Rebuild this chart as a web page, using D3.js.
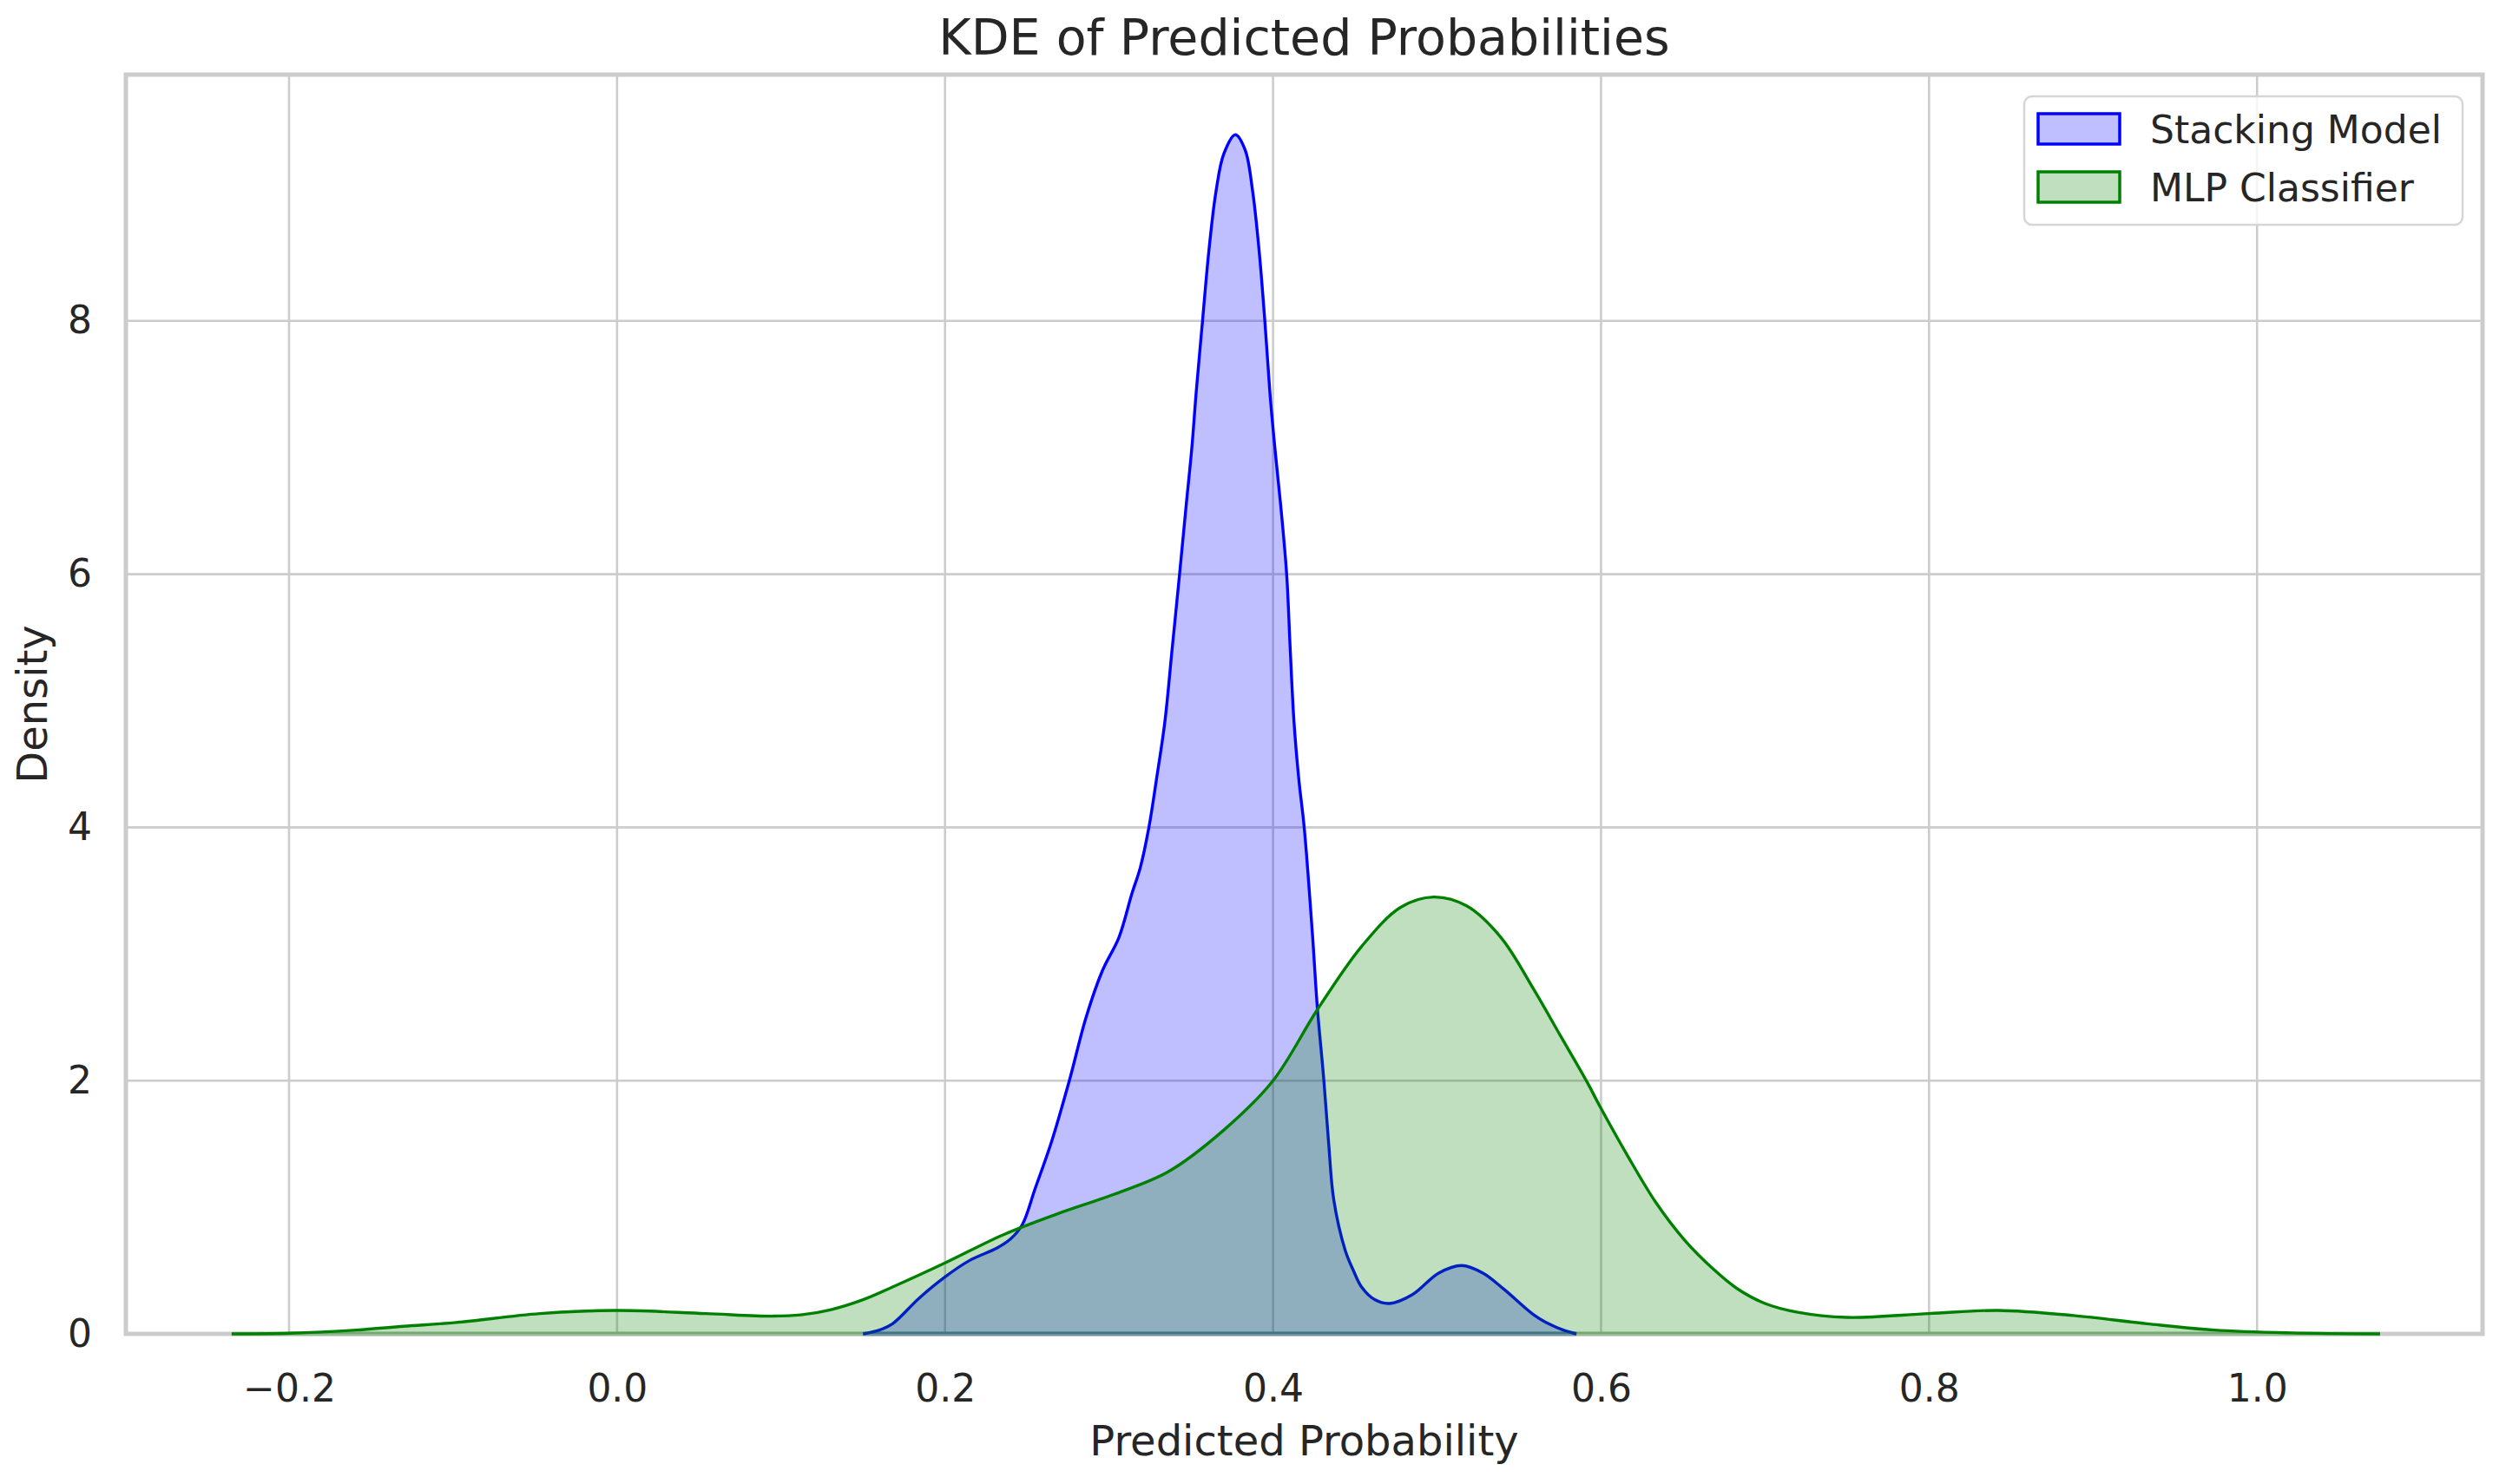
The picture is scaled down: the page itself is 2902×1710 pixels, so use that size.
<!DOCTYPE html>
<html>
<head>
<meta charset="utf-8">
<title>KDE of Predicted Probabilities</title>
<script src="https://cdn.jsdelivr.net/npm/d3@7"></script>
<style>
  body { margin: 0; background: #fff; }
  text { font-family: "DejaVu Sans", sans-serif; fill: #262626; }
  .grid line { stroke: #cccccc; stroke-width: 2.6; }
  .spine { stroke: #cccccc; stroke-width: 5; fill: none; }
  .axis .domain { display: none; }
  .axis text { font-size: 44px; }
</style>
</head>
<body>
<div id="chart"></div>
<script>
// values
const seriesNames = ['Stacking Model', 'MLP Classifier'];
const seriesColors = ['#0000ff', '#008000'];

const stackX = [0.150, 0.160, 0.168, 0.184, 0.200, 0.215, 0.232, 0.240, 0.247, 0.255,
  0.265, 0.276, 0.286, 0.296, 0.306, 0.314, 0.319, 0.3243, 0.3288, 0.334,
  0.3384, 0.343, 0.347, 0.3505, 0.3531, 0.357, 0.361, 0.3653, 0.370, 0.377,
  0.383, 0.3875, 0.3914, 0.395, 0.3981, 0.4011, 0.4047, 0.4083, 0.4105, 0.4128,
  0.4158, 0.419, 0.424, 0.427, 0.431, 0.434, 0.437, 0.444, 0.449, 0.454,
  0.462, 0.471, 0.485, 0.501, 0.515, 0.528, 0.541, 0.559, 0.568, 0.577, 0.585];
const stackD = [0, 0.03, 0.08, 0.28, 0.45, 0.58, 0.68, 0.75, 0.86, 1.15,
  1.52, 2.01, 2.50, 2.87, 3.13, 3.48, 3.68, 4.0, 4.37, 4.83,
  5.40, 6.0, 6.54, 7.0, 7.43, 8.0, 8.57, 9.03, 9.32, 9.47,
  9.35, 9.03, 8.57, 8.0, 7.43, 7.0, 6.54, 6.0, 5.40, 4.83,
  4.37, 4.0, 3.16, 2.58, 2.0, 1.49, 1.06, 0.66, 0.50, 0.37,
  0.27, 0.24, 0.31, 0.48, 0.54, 0.48, 0.35, 0.15, 0.08, 0.03, 0];

const mlpX = [-0.235, -0.200, -0.159, -0.130, -0.098, -0.047, 0.0, 0.054, 0.095, 0.112,
  0.130, 0.150, 0.168, 0.200, 0.235, 0.269, 0.3025, 0.336, 0.370, 0.400,
  0.427, 0.454, 0.478, 0.498, 0.518, 0.539, 0.559, 0.575, 0.591, 0.600,
  0.6156, 0.6333, 0.651, 0.6686, 0.6827, 0.700, 0.720, 0.750, 0.800, 0.842,
  0.888, 0.933, 0.974, 1.020, 1.075];
const mlpD = [0, 0.005, 0.03, 0.06, 0.09, 0.16, 0.185, 0.16, 0.14, 0.15,
  0.19, 0.27, 0.37, 0.56, 0.78, 0.95, 1.10, 1.28, 1.61, 2.0,
  2.56, 3.06, 3.37, 3.45, 3.38, 3.13, 2.72, 2.36, 2.0, 1.78,
  1.42, 1.04, 0.74, 0.51, 0.36, 0.24, 0.17, 0.13, 0.16, 0.185,
  0.145, 0.08, 0.03, 0.008, 0];

const xTicks = [-0.2, 0.0, 0.2, 0.4, 0.6, 0.8, 1.0];
const yTicks = [0, 2, 4, 6, 8];
const xLimits = [-0.2995, 1.1375];
const yLimits = [0, 9.945];

const W = 2902, H = 1710;
const margin = {top: 86, right: 42, bottom: 173, left: 145};
const width = W - margin.left - margin.right;
const height = H - margin.top - margin.bottom;

const x = d3.scaleLinear().domain(xLimits).range([0, width]);
const y = d3.scaleLinear().domain(yLimits).range([height, 0]);

const svg = d3.select("#chart").append("svg")
    .attr("width", W)
    .attr("height", H);

const g = svg.append("g")
    .attr("transform", `translate(${margin.left},${margin.top})`);

// grid
const grid = g.append("g").attr("class", "grid");
grid.selectAll(".vx").data(xTicks).enter().append("line")
    .attr("x1", d => x(d)).attr("x2", d => x(d))
    .attr("y1", 0).attr("y2", height);
grid.selectAll(".hy").data(yTicks.filter(d => d > 0)).enter().append("line")
    .attr("x1", 0).attr("x2", width)
    .attr("y1", d => y(d)).attr("y2", d => y(d));

// spines
g.append("rect").attr("class", "spine")
    .attr("x", 0).attr("y", 0)
    .attr("width", width).attr("height", height);

const series = [
  {name: seriesNames[0], color: seriesColors[0], pts: stackX.map((v, i) => [v, stackD[i]])},
  {name: seriesNames[1], color: seriesColors[1], pts: mlpX.map((v, i) => [v, mlpD[i]])}
];

const curve = d3.curveCatmullRom.alpha(0.5);

const area = d3.area()
    .x(d => x(d[0]))
    .y0(y(0))
    .y1(d => y(Math.max(0, d[1])))
    .curve(curve);

const line = d3.line()
    .x(d => x(d[0]))
    .y(d => y(d[1]))
    .curve(curve);

series.forEach(s => {
  g.append("path")
      .attr("d", area(s.pts))
      .attr("fill", s.color)
      .attr("fill-opacity", 0.25);
  // fill edge along the baseline
  g.append("line")
      .attr("x1", x(s.pts[0][0])).attr("x2", x(s.pts[s.pts.length - 1][0]))
      .attr("y1", y(0)).attr("y2", y(0))
      .attr("stroke", s.color).attr("stroke-opacity", 0.25).attr("stroke-width", 5);
  g.append("path")
      .attr("d", line(s.pts))
      .attr("fill", "none")
      .attr("stroke", s.color)
      .attr("stroke-width", 3.4)
      .attr("stroke-linejoin", "round");
});

// axes
g.append("g")
    .attr("class", "axis")
    .attr("transform", `translate(0,${height})`)
    .call(d3.axisBottom(x).tickValues(xTicks).tickFormat(d3.format(".1f")).tickSize(0).tickPadding(47));

g.append("g")
    .attr("class", "axis")
    .call(d3.axisLeft(y).tickValues(yTicks).tickFormat(d3.format("d")).tickSize(0).tickPadding(39));

// labels
svg.append("text")
    .attr("x", margin.left + width / 2)
    .attr("y", 63)
    .attr("text-anchor", "middle")
    .style("font-size", "57px")
    .text("KDE of Predicted Probabilities");

svg.append("text")
    .attr("x", margin.left + width / 2)
    .attr("y", 1677)
    .attr("text-anchor", "middle")
    .style("font-size", "48px")
    .text("Predicted Probability");

svg.append("text")
    .attr("transform", `translate(54,${margin.top + height / 2}) rotate(-90)`)
    .attr("text-anchor", "middle")
    .style("font-size", "48px")
    .text("Density");

// legend
const legend = svg.append("g").attr("transform", "translate(2332,111)");
legend.append("rect")
    .attr("width", 505).attr("height", 148)
    .attr("rx", 9).attr("ry", 9)
    .attr("fill", "#fff").attr("fill-opacity", 0.8)
    .attr("stroke", "#d6d6d6").attr("stroke-width", 2.5);

const items = legend.selectAll(".item").data(series).enter().append("g")
    .attr("transform", (d, i) => `translate(16,${20 + i * 67})`);
items.append("rect")
    .attr("width", 94).attr("height", 35)
    .attr("fill", d => d.color).attr("fill-opacity", 0.25)
    .attr("stroke", d => d.color).attr("stroke-width", 3.5);
items.append("text")
    .attr("x", 129).attr("y", 34)
    .style("font-size", "44px")
    .text(d => d.name);
</script>
</body>
</html>
